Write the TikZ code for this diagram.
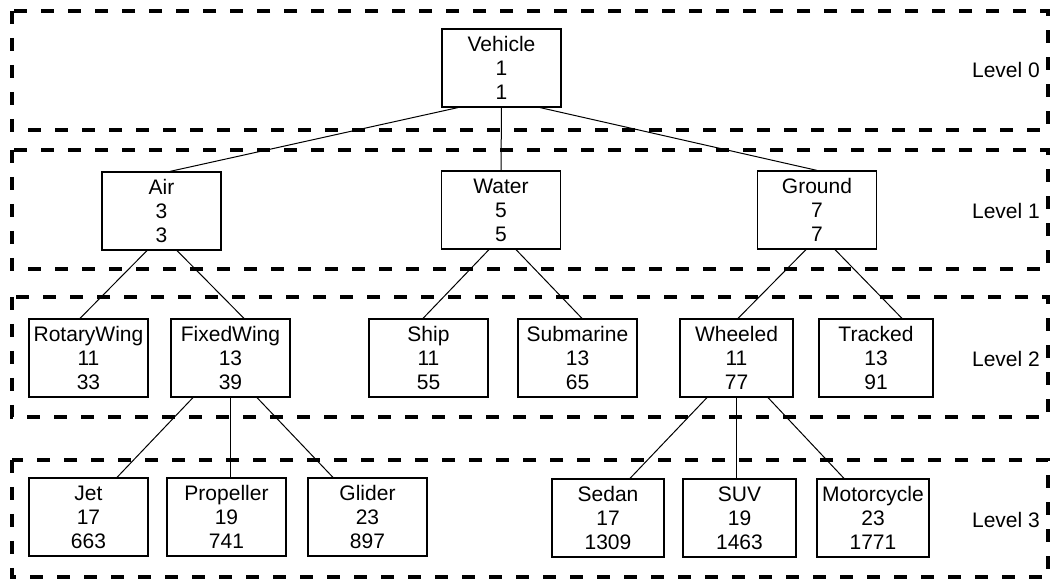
\documentclass[tikz,border=0pt]{standalone}
\usepackage{fontspec}
\setmainfont{Liberation Sans}
\usetikzlibrary{calc}

\begin{document}
\begin{tikzpicture}[x=0.5pt,y=-0.5pt,
  band/.style={line width=1.8pt,dash pattern=on 6.5pt off 7pt},
  cls/.style={draw,line width=0.6pt,minimum width=59.5pt,minimum height=39pt,inner sep=0pt,align=center,font=\fontsize{10.5}{12}\selectfont},
  lvl/.style={font=\fontsize{10.5}{12}\selectfont},
  edge/.style={line width=0.5pt}]
\useasboundingbox (0,0) rectangle (1051,581);
% level bands
\draw[band] (12,11) rectangle (1048,130);
\draw[band] (12,150) rectangle (1048,269);
\draw[band] (12,297) rectangle (1048,417);
\draw[band] (12,460) rectangle (1048,577);
\node[lvl] (lvl0) at (1006,70) {Level 0};
\node[lvl] (lvl1) at (1006,211) {Level 1};
\node[lvl] (lvl2) at (1006,359) {Level 2};
\node[lvl] (lvl3) at (1006,520) {Level 3};
% level 0
\node[cls] (vehicle) at (501.5,68) {Vehicle\\1\\1};
% level 1
\node[cls] (air) at (161.5,211) {Air\\3\\3};
\node[cls] (water) at (501,210) {Water\\5\\5};
\node[cls] (ground) at (817,210) {Ground\\7\\7};
% level 2
\node[cls] (rotary) at (88.5,358) {RotaryWing\\11\\33};
\node[cls] (fixed) at (230.5,358) {FixedWing\\13\\39};
\node[cls] (ship) at (428.5,358) {Ship\\11\\55};
\node[cls] (sub) at (577.5,358) {Submarine\\13\\65};
\node[cls,minimum width=56.5pt] (wheeled) at (736.5,358) {Wheeled\\11\\77};
\node[cls,minimum width=57pt] (tracked) at (876,358) {Tracked\\13\\91};
% level 3
\node[cls] (jet) at (88.5,517) {Jet\\17\\663};
\node[cls] (prop) at (226.5,517) {Propeller\\19\\741};
\node[cls] (glider) at (367.5,517) {Glider\\23\\897};
\node[cls,minimum width=56pt] (sedan) at (608,518) {Sedan\\17\\1309};
\node[cls,minimum width=56.5pt] (suv) at (739.5,518) {SUV\\19\\1463};
\node[cls,minimum width=56pt] (moto) at (873,518) {Motorcycle\\23\\1771};
% connectors
\draw[edge] ($(vehicle.south)+(-43.5,0)$) -- ($(air.north)+(8.5,0)$);
\draw[edge] (vehicle.south) -- (water.north);
\draw[edge] ($(vehicle.south)+(38.5,0)$) -- (ground.north);
\draw[edge] ($(air.south)+(-14.5,0)$) -- ($(rotary.north)+(-8.5,0)$);
\draw[edge] ($(air.south)+(15.5,0)$) -- ($(fixed.north)+(13.5,0)$);
\draw[edge] ($(water.south)+(-12,0)$) -- ($(ship.north)+(-5.5,0)$);
\draw[edge] ($(water.south)+(15,0)$) -- ($(sub.north)+(4.5,0)$);
\draw[edge] ($(ground.south)+(-11,0)$) -- ($(wheeled.north)+(1.5,0)$);
\draw[edge] ($(ground.south)+(18,0)$) -- ($(tracked.north)+(26,0)$);
\draw[edge] ($(fixed.south)+(-37.5,0)$) -- ($(jet.north)+(28.5,0)$);
\draw[edge] (fixed.south) -- (fixed.south |- prop.north);
\draw[edge] ($(fixed.south)+(26.5,0)$) -- ($(glider.north)+(-34.5,0)$);
\draw[edge] ($(wheeled.south)+(-29.5,0)$) -- ($(sedan.north)+(22,0)$);
\draw[edge] (wheeled.south) -- (wheeled.south |- suv.north);
\draw[edge] ($(wheeled.south)+(31.5,0)$) -- ($(moto.north)+(-29,0)$);
\end{tikzpicture}
\end{document}
